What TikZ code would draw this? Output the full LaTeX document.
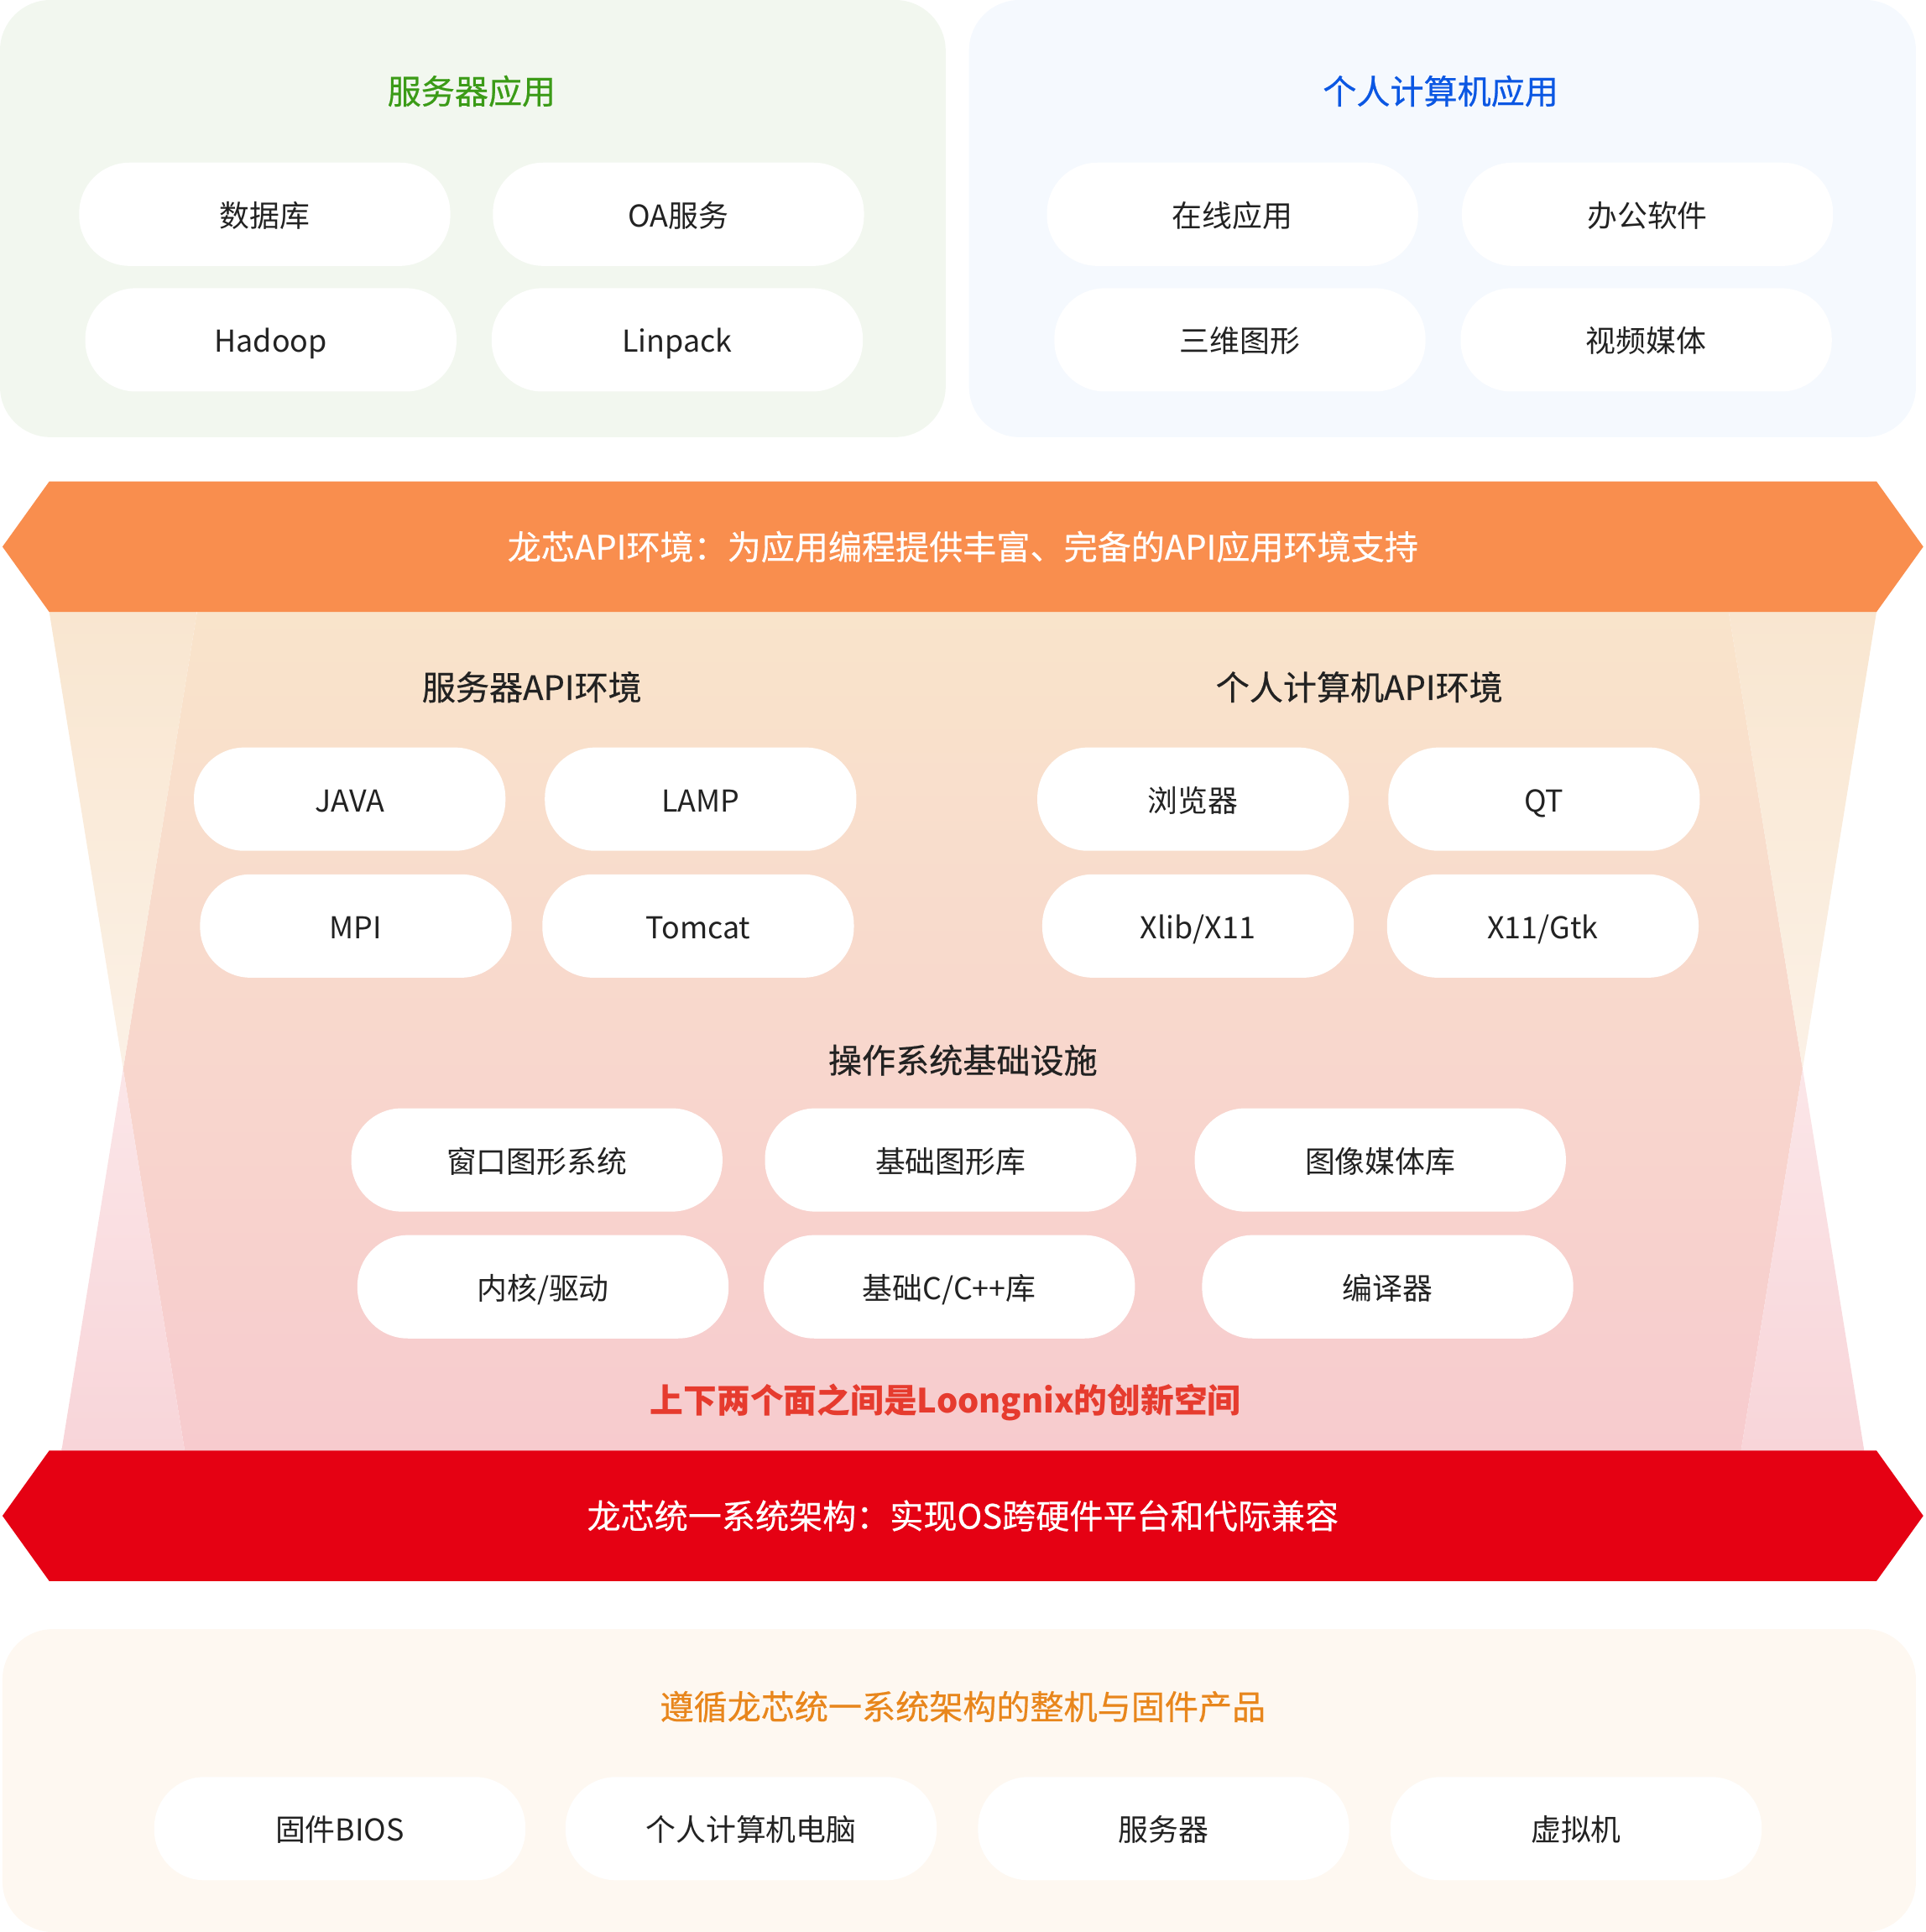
\documentclass[tikz,border=0pt]{standalone}
\usepackage{fontspec}
\setmainfont{Noto Sans CJK SC}
\newfontfamily\medfont[FakeBold=0.5]{Noto Sans CJK SC}
\usepackage{tikz}
\usetikzlibrary{positioning}

\definecolor{txtdark}{HTML}{222222}
\definecolor{srvgreen}{HTML}{3B9B17}
\definecolor{pcblue}{HTML}{0B57E3}
\definecolor{prodorange}{HTML}{E8861C}
\definecolor{innored}{HTML}{E63B2E}
\definecolor{bandorange}{HTML}{F98E4E}
\definecolor{bandred}{HTML}{E50113}
\definecolor{srvbg}{HTML}{F2F7EF}
\definecolor{pcbg}{HTML}{F5F9FE}
\definecolor{prodbg}{HTML}{FEF8F1}
\definecolor{midtop}{HTML}{F9E4CB}
\definecolor{midbot}{HTML}{F7CBCE}
\definecolor{creamtop}{HTML}{F9E6D0}
\definecolor{creambot}{HTML}{FBF1E6}
\definecolor{pinktop}{HTML}{FBE6E8}
\definecolor{pinkbot}{HTML}{F8D5D9}

\begin{document}
\begin{tikzpicture}[x=0.014668cm,y=-0.014668cm,
    pill/.style={fill=white,rounded corners=0.6cm,minimum width=4.42cm,minimum height=1.23cm,inner sep=0pt,
        text height=0.95em,text depth=0.1em,text=txtdark,font=\fontsize{10.2}{12}\selectfont},
    apipill/.style={pill,minimum width=3.71cm},
    heading/.style={font=\fontsize{11.4}{14}\selectfont\medfont},
    bandtext/.style={heading,text=white}]

                \useasboundingbox (0,0) rectangle (1564,1569);

                % application panels
                \fill [srvbg,rounded corners=0.6cm] (0,0) rectangle (768,355);
                \fill [pcbg,rounded corners=0.6cm] (787,0) rectangle (1556,355);
                \node [heading,text=srvgreen] (srvapp) at (383,74) {服务器应用};
                \node [heading,text=pcblue] (pcapp) at (1170,74) {个人计算机应用};

                \foreach \n/\x/\y/\t in {db/215/174/数据库, oa/551/174/OA服务, hadoop/220/276/Hadoop, linpack/550/276/Linpack,
                    online/1001/174/在线应用, office/1338/174/办公软件, threed/1007/276/三维图形, video/1337/276/视频媒体}
                {
                    \node [pill] (\n) at (\x,\y) {\t};
                }

                % space between the two bands
                \shade [top color=midtop,bottom color=midbot] (160,497) -- (1404,497) -- (1464,868) -- (1414,1178) -- (150,1178) -- (100,868) -- cycle;
                \foreach \a/\b/\c in {40/160/100,1524/1404/1464}
                {
                    \shade [top color=creamtop,bottom color=creambot] (\a,497) -- (\b,497) -- (\c,868) -- cycle;
                }
                \foreach \a/\b/\c in {100/150/50,1464/1414/1514}
                {
                    \shade [top color=pinktop,bottom color=pinkbot] (\a,868) -- (\b,1178) -- (\c,1178) -- cycle;
                }

                % the two bands
                \fill [bandorange] (2,444) -- (40,391) -- (1524,391) -- (1562,444) -- (1524,497) -- (40,497) -- cycle;
                \node [bandtext] (apiband) at (782,444) {龙芯API环境：为应用编程提供丰富、完备的API应用环境支持};
                \fill [bandred] (2,1231) -- (40,1178) -- (1524,1178) -- (1562,1231) -- (1524,1284) -- (40,1284) -- cycle;
                \node [bandtext] (archband) at (782,1231) {龙芯统一系统架构：实现OS跨硬件平台和代际兼容};

                % api environments
                \node [heading,text=txtdark] (srvapi) at (432,558) {服务器API环境};
                \node [heading,text=txtdark] (pcapi) at (1104,558) {个人计算机API环境};
                \foreach \n/\x/\y/\t in {java/284/649/JAVA, lamp/569/649/LAMP, mpi/289/752/MPI, tomcat/567/752/Tomcat,
                    browser/969/649/浏览器, qt/1254/649/QT, xlib/973/752/{Xlib/X11}, gtk/1253/752/{X11/Gtk}}
                {
                    \node [apipill] (\n) at (\x,\y) {\t};
                }

                % os base
                \node [heading,text=txtdark] (osbase) at (782,861) {操作系统基础设施};
                \foreach \n/\x/\y/\t in {win/436/942/窗口图形系统, gfx/772/942/基础图形库, media/1121/942/图像媒体库,
                    kernel/441/1045/{内核/驱动}, libc/771/1045/{基础C/C++库}, cc/1127/1045/编译器}
                {
                    \node [pill] (\n) at (\x,\y) {\t};
                }
                \node [font=\fontsize{11.3}{14}\selectfont\bfseries,text=innored] (space) at (768,1139) {上下两个面之间是Loongnix的创新空间};

                % products
                \fill [prodbg,rounded corners=0.6cm] (2,1323) rectangle (1556,1569);
                \node [heading,text=prodorange] (prodtitle) at (782,1386) {遵循龙芯统一系统架构的整机与固件产品};
                \foreach \n/\x/\t in {bios/276/固件BIOS, pc/610/个人计算机电脑, server/945/服务器, vm/1280/虚拟机}
                {
                    \node [pill] (\n) at (\x,1485) {\t};
                }
\end{tikzpicture}
\end{document}
